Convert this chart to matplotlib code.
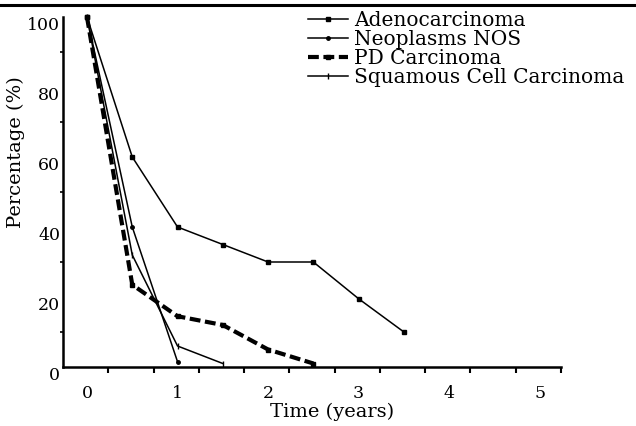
import matplotlib
matplotlib.use("Agg")
import matplotlib.pyplot as plt
from matplotlib.lines import Line2D
from matplotlib.transforms import ScaledTranslation

# ---- data ----
series_names = ["Adenocarcinoma", "Neoplasms NOS", "PD Carcinoma", "Squamous Cell Carcinoma"]
adeno_t = [0, 0.5, 1, 1.5, 2, 2.5, 3, 3.5]
adeno_v = [100, 60, 40, 35, 30, 30, 19.5, 10]
nos_t = [0, 0.5, 1]
nos_v = [100, 40, 1.5]
pd_t = [0, 0.5, 1, 1.5, 2, 2.5]
pd_v = [100, 23.5, 14.5, 12, 5, 1]
sq_t = [0, 0.5, 1, 1.5]
sq_v = [100, 32, 6, 1]
xtick_vals = [0, 1, 2, 3, 4, 5]
ytick_vals = [0, 20, 40, 60, 80, 100]

plt.rcParams['font.family'] = ['DejaVu Serif']

W, H = 636, 426
fig = plt.figure(figsize=(W / 100, H / 100), dpi=100)
ax = fig.add_axes([63 / W, 1 - 367 / H, (561 - 63) / W, (367 - 17) / H])

thin = 1.1
ax.plot(adeno_t, adeno_v, color='black', lw=thin, marker='s', ms=2.5, clip_on=False,
        label=series_names[0])
ax.plot(nos_t, nos_v, color='black', lw=thin, marker='o', ms=2.5, clip_on=False,
        label=series_names[1])
ax.plot(pd_t, pd_v, color='black', lw=3.0, marker='s', ms=3.5, clip_on=False,
        dashes=(2.6, 1.1), label=series_names[2])
ax.plot(sq_t, sq_v, color='black', lw=thin, marker='|', ms=5, clip_on=False,
        label=series_names[3])

ax.set_xlim(-0.265, 5.235)
ax.set_ylim(0, 100)

for s in ['top', 'right']:
    ax.spines[s].set_visible(False)
for s in ['left', 'bottom']:
    ax.spines[s].set_linewidth(1.8)

# major ticks: labels only
ax.set_xticks(xtick_vals)
ax.set_xticklabels([str(v) for v in xtick_vals])
ax.set_yticks(ytick_vals)
ax.set_yticklabels([str(v) for v in ytick_vals])
ax.tick_params(axis='x', which='major', length=0, pad=13, labelsize=12.5)
ax.tick_params(axis='y', which='major', length=0, pad=2, labelsize=12.5)
# minor ticks: visible marks (offset from labels as in the reference)
ax.set_xticks([-0.265 + 0.5 * k for k in range(1, 12)], minor=True)
ax.set_yticks([10, 30, 50, 70, 90], minor=True)
ax.tick_params(axis='x', which='minor', length=4.5, width=1.5, direction='out')
ax.tick_params(axis='y', which='minor', length=2.5, width=1.2, direction='out')

off = ScaledTranslation(0, -5 / 72, fig.dpi_scale_trans)
for lab in ax.get_yticklabels():
    lab.set_transform(lab.get_transform() + off)

ax.set_xlabel("Time (years)", fontsize=14)
ax.set_ylabel("Percentage (%)", fontsize=14)
ax.xaxis.label.set_va('center')
ax.yaxis.label.set_va('center')
ax.xaxis.set_label_coords((332 - 63) / 498, (367 - 412) / 350)
ax.yaxis.set_label_coords((16 - 63) / 498, (367 - 152) / 350)

fs = 14.5
leg = ax.legend(loc='upper left', bbox_to_anchor=(308 / W, 1 - 11 / H),
                bbox_transform=fig.transFigure, frameon=False, fontsize=fs,
                borderaxespad=0, borderpad=0, labelspacing=0.0,
                handlelength=2.0, handletextpad=0.3, markerscale=1.0)

# top border rule
fig.add_artist(Line2D([0, 1], [1 - 5 / H, 1 - 5 / H], transform=fig.transFigure,
                      color='black', lw=2.2))

fig.savefig("out.png", dpi=100)
